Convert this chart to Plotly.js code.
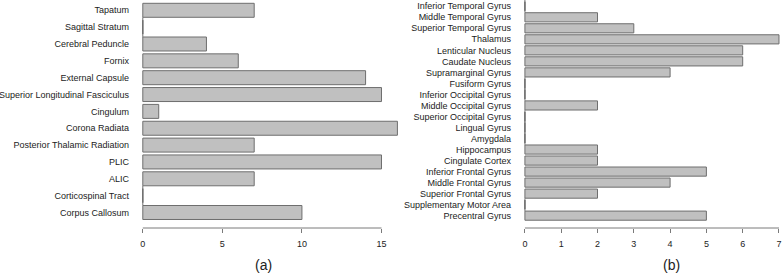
<!DOCTYPE html>
<html>
<head>
<meta charset="utf-8">
<script src="https://cdn.plot.ly/plotly-3.0.1.min.js"></script>
<style>html,body{margin:0;padding:0;background:#fff;}#chart{width:782px;height:274px;}</style>
</head>
<body>
<div id="chart"></div>
<script>
// Panel (a): white matter tracts (top to bottom)
var tractNames = ["Tapatum","Sagittal Stratum","Cerebral Peduncle","Fornix","External Capsule",
  "Superior Longitudinal Fasciculus","Cingulum","Corona Radiata","Posterior Thalamic Radiation",
  "PLIC","ALIC","Corticospinal Tract","Corpus Callosum"];
var tractCounts = [7,0,4,6,14,15,1,16,7,15,7,0,10];
var tractTicks = [0,5,10,15];

// Panel (b): gray matter regions (top to bottom)
var regionNames = ["Inferior Temporal Gyrus","Middle Temporal Gyrus","Superior Temporal Gyrus",
  "Thalamus","Lenticular Nucleus","Caudate Nucleus","Supramarginal Gyrus","Fusiform Gyrus",
  "Inferior Occipital Gyrus","Middle Occipital Gyrus","Superior Occipital Gyrus","Lingual Gyrus",
  "Amygdala","Hippocampus","Cingulate Cortex","Inferior Frontal Gyrus","Middle Frontal Gyrus",
  "Superior Frontal Gyrus","Supplementary Motor Area","Precentral Gyrus"];
var regionCounts = [0,2,3,7,6,6,4,0,0,2,0,0,0,2,2,5,4,2,0,5];
var regionTicks = [0,1,2,3,4,5,6,7];

var panelLabels = ["(a)","(b)"];

var FILL = "#c0c0c0", EDGE = "#6e6e6e", AXIS = "#7a7a7a";
var FONT = "Liberation Sans, Arial, Helvetica, sans-serif";

function zeros(names, vals){
  var n=[]; vals.forEach(function(v,i){ if(v===0) n.push(names[i]); }); return n;
}

var traces = [
  {type:"bar", orientation:"h", x:tractCounts, y:tractNames, xaxis:"x", yaxis:"y",
   marker:{color:FILL, line:{color:EDGE, width:1}}, hoverinfo:"x+y"},
  {type:"scatter", mode:"markers", x:zeros(tractNames,tractCounts).map(function(){return 0;}),
   y:zeros(tractNames,tractCounts), xaxis:"x", yaxis:"y",
   marker:{symbol:"line-ns", size:14, line:{color:EDGE, width:1}}, hoverinfo:"skip"},
  {type:"bar", orientation:"h", x:regionCounts, y:regionNames, xaxis:"x2", yaxis:"y2",
   marker:{color:FILL, line:{color:EDGE, width:1}}, hoverinfo:"x+y"},
  {type:"scatter", mode:"markers", x:zeros(regionNames,regionCounts).map(function(){return 0;}),
   y:zeros(regionNames,regionCounts), xaxis:"x2", yaxis:"y2",
   marker:{symbol:"line-ns", size:9, line:{color:EDGE, width:1}}, hoverinfo:"skip"}
];

var tickFont = {family:FONT, size:9, color:"#222"};

function xax(domain, range, ticks, anchor){
  return {domain:domain, range:range, anchor:anchor, tickmode:"array", tickvals:ticks,
    ticktext:ticks.map(String), ticks:"outside", ticklen:4, tickcolor:AXIS, tickwidth:1,
    ticklabelstandoff:3,
    showline:false, showgrid:false, zeroline:false, tickfont:tickFont, fixedrange:true};
}
function yax(names, range, anchor){
  return {type:"category", categoryorder:"array", categoryarray:names, range:range, anchor:anchor,
    showline:false, showgrid:false, zeroline:false, ticks:"", ticklabelstandoff:3,
    tickfont:tickFont, fixedrange:true};
}

var PLOT_H = 228;
function paperY(px){ return (PLOT_H - px) / PLOT_H; }

var layout = {
  width:782, height:274,
  margin:{l:0, r:0, t:0, b:46},
  paper_bgcolor:"#fff", plot_bgcolor:"#fff",
  showlegend:false, bargap:0.17,
  font:{family:FONT},
  xaxis: xax([133/782, 406/782], [-0.616, 16.54], tractTicks, "y"),
  yaxis: yax(tractNames, [12.92, -0.611], "x"),
  xaxis2: xax([515/782, 1], [-0.273, 7.083], regionTicks, "y2"),
  yaxis2: yax(regionNames, [20.12, -0.57], "x2"),
  shapes:[
    {type:"line", xref:"x", yref:"y domain", x0:tractTicks[0], x1:tractTicks[tractTicks.length-1], y0:0, y1:0,
     line:{color:AXIS, width:1}},
    {type:"line", xref:"x2", yref:"y2 domain", x0:regionTicks[0], x1:regionTicks[regionTicks.length-1], y0:0, y1:0,
     line:{color:AXIS, width:1}}
  ],
  annotations:[
    {text:panelLabels[0], xref:"paper", yref:"paper", x:263/782, y:paperY(265), xanchor:"center", yanchor:"middle",
     showarrow:false, font:{family:FONT, size:14, color:"#222"}},
    {text:panelLabels[1], xref:"paper", yref:"paper", x:671/782, y:paperY(265), xanchor:"center", yanchor:"middle",
     showarrow:false, font:{family:FONT, size:14, color:"#222"}}
  ]
};

Plotly.newPlot("chart", traces, layout, {displayModeBar:false, staticPlot:true});
</script>
</body>
</html>
